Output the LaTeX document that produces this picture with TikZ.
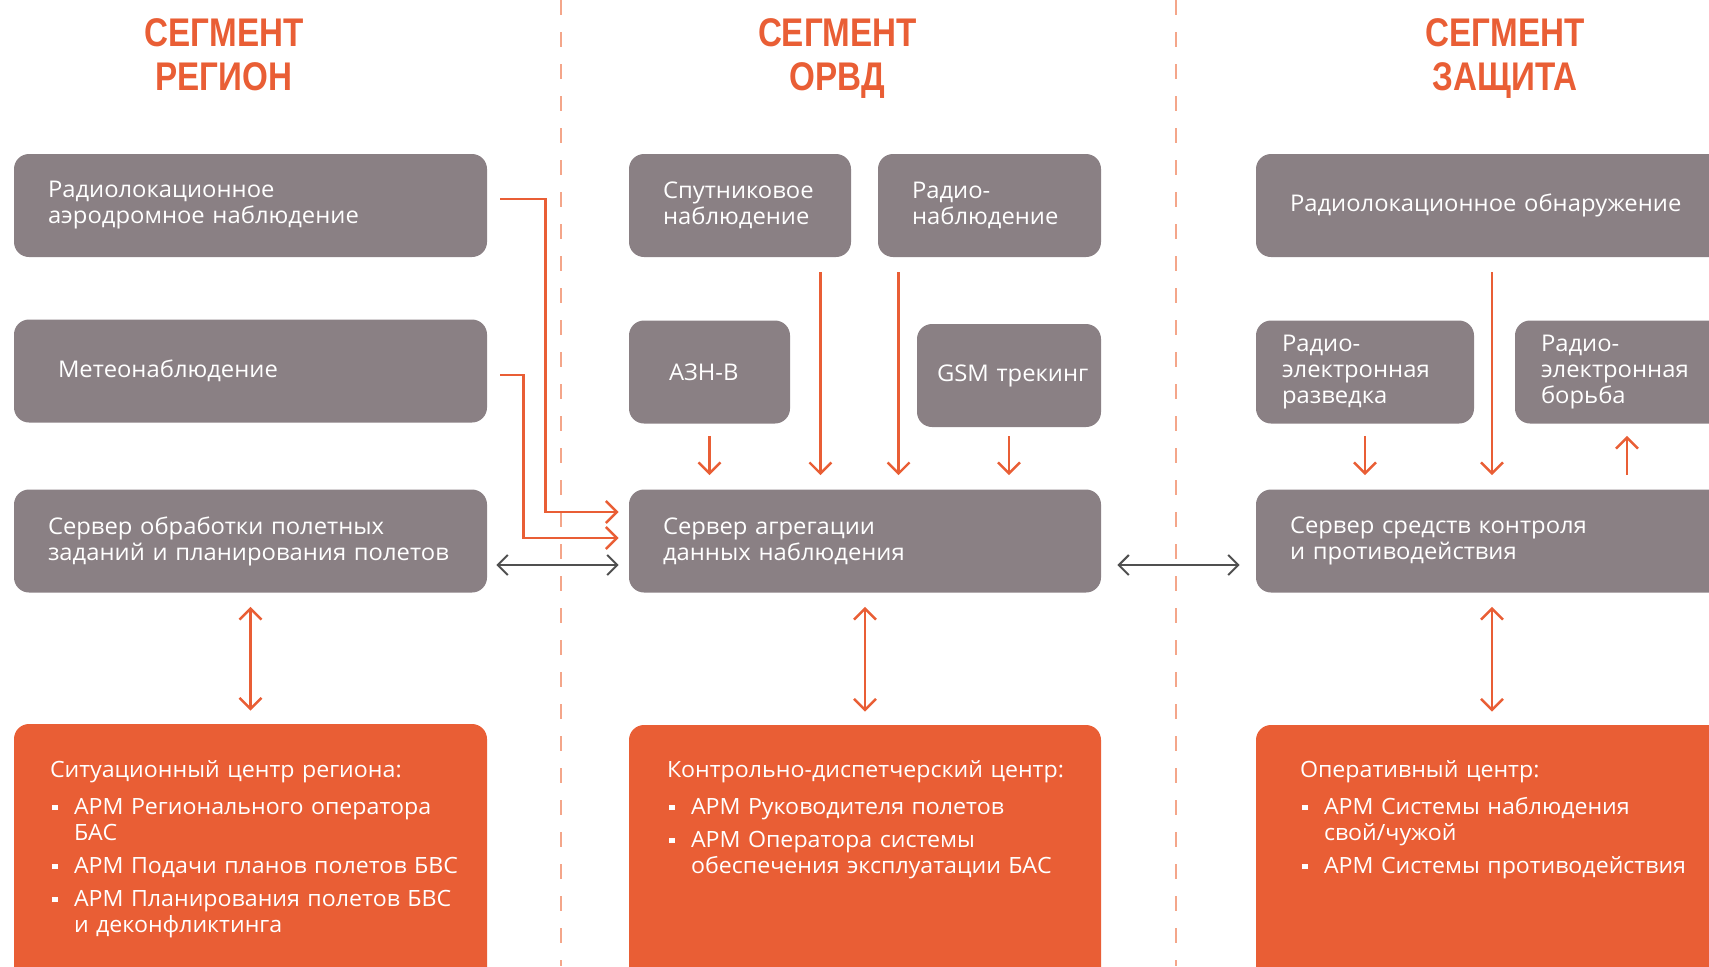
\documentclass[tikz,border=0pt]{standalone}
\usepackage{fontspec}
\setmainfont{Open Sans}[FakeStretch=1.035]
\newfontfamily\segfont{Liberation Sans}[FakeStretch=0.83]
\usetikzlibrary{arrows.meta, positioning, calc}

\definecolor{segorange}{RGB}{233,94,53}
\definecolor{boxgray}{RGB}{138,128,132}
\definecolor{dashorange}{RGB}{244,166,138}
\definecolor{linkgray}{RGB}{80,80,80}

% bullet line for the workplace lists
\newcommand{\armitem}[1]{\par\vspace{3.5pt}\hangindent=12pt\hangafter=1\noindent
	\makebox[12pt][l]{\hspace{1.2pt}\raisebox{2.2pt}{\rule{2.6pt}{2.6pt}}}#1\par}

\begin{document}
\begin{tikzpicture}[x=0.5pt, y=-0.5pt,
		otip/.tip={Straight Barb[length=5.5pt,width=11pt]},
		gtip/.tip={Straight Barb[length=5pt,width=10pt]},
		gbox/.style={fill=boxgray, rounded corners=7.5pt, text=white, align=left,
			minimum height=51.5pt, inner xsep=17pt, inner ysep=0pt,
			font=\fontsize{11.5}{13}\selectfont},
		obox/.style={fill=segorange, rounded corners=7.5pt, minimum width=236pt,
			minimum height=150pt, inner sep=0pt},
		otext/.style={text=white, anchor=base west, inner sep=0pt, text width=225pt,
			font=\fontsize{11.2}{13}\selectfont},
		segtitle/.style={text=segorange, align=center, anchor=base,
			font=\segfont\bfseries\fontsize{20}{22}\selectfont},
		feed/.style={draw=segorange, line width=1.2pt, -otip},
		feedboth/.style={draw=segorange, line width=1.2pt, otip-otip},
		link/.style={draw=linkgray, line width=1pt, gtip-gtip},
		divider/.style={draw=dashorange, line width=1pt, dash pattern=on 7.5pt off 8.5pt}]
	
	\useasboundingbox (0,0) rectangle (1709,966);
	\clip (0,0) rectangle (1709,966);
	
	% ---------- segment borders ----------
	\draw[divider] (561,0) -- (561,966);
	\draw[divider] (1176,0) -- (1176,966);
	
	% ---------- Segment Region ----------
	\node[segtitle] (regtitle) at (224,90) {СЕГМЕНТ\\РЕГИОН};
	\node[gbox, text width=202.5pt] (radar) at (250.5,205.5) {Радиолокационное\\аэродромное наблюдение};
	\node[gbox, text width=192.5pt, inner xsep=22pt] (meteo) at (250.5,371) {Метеонаблюдение};
	\node[gbox, text width=202.5pt] (plan) at (250.5,541) {Сервер обработки полетных\\заданий и планирования полетов};
	\node[obox, minimum width=236.5pt] (regc) at (250.5,874) {};
	\node[otext] (regc-t) at ([shift={(36,54)}]regc.north west) {Ситуационный центр региона:\par\vspace{2pt}
		\armitem{АРМ Регионального оператора\newline БАС}
		\armitem{АРМ Подачи планов полетов БВС}
		\armitem{АРМ Планирования полетов БВС\newline и деконфликтинга}};
	
	% ---------- Segment ORVD ----------
	\node[segtitle] (orvdtitle) at (837.5,90) {СЕГМЕНТ\\ОРВД};
	\node[gbox, text width=77pt] (sat) at (740,205.5) {Спутниковое\\наблюдение};
	\node[gbox, text width=77.5pt] (radio) at (989.5,205.5) {Радио-\\наблюдение};
	\node[gbox, text width=40.5pt, inner xsep=20pt] (ads) at (709.5,372) {АЗН-В};
	\node[gbox, text width=72pt, inner xsep=10pt] (gsm) at (1009,375.5) {\mbox{GSM трекинг}};
	\node[gbox, text width=202pt] (agg) at (865,541) {Сервер агрегации\\данных наблюдения};
	\node[obox] (kdc) at (865,875) {};
	\node[otext] (kdc-t) at ([shift={(38,53)}]kdc.north west) {Контрольно-диспетчерский центр:\par\vspace{2pt}
		\armitem{АРМ Руководителя полетов}
		\armitem{АРМ Оператора системы\newline обеспечения эксплуатации БАС}};
	
	% ---------- Segment Protection ----------
	\node[segtitle] (zashtitle) at (1505,90) {СЕГМЕНТ\\ЗАЩИТА};
	\node[gbox, text width=202pt] (det) at (1492,205.5) {Радиолокационное обнаружение};
	\node[gbox, text width=83pt, inner xsep=13pt] (elint) at (1365,372) {Радио-\\электронная\\разведка};
	\node[gbox, text width=83pt, inner xsep=13pt] (ew) at (1624,372) {Радио-\\электронная\\борьба};
	\node[gbox, text width=202pt] (cuas) at (1492,541) {Сервер средств контроля\\и противодействия};
	\node[obox] (opc) at (1492,875) {};
	\node[otext] (opc-t) at ([shift={(44,53)}]opc.north west) {Оперативный центр:\par\vspace{2pt}
		\armitem{АРМ Системы наблюдения\newline свой/чужой}
		\armitem{АРМ Системы противодействия}};
	
	% ---------- feeds into the aggregation server ----------
	\draw[feed] ([shift={(13,-6.5)}]radar.east) -- ++(45,0) |- ([shift={(-10,-29)}]agg.west);
	\draw[feed] ([shift={(13,4)}]meteo.east) -- ++(23,0) |- ([shift={(-10,-3)}]agg.west);
	\coordinate (satout) at ([shift={(-31,0)}]sat.south east);
	\coordinate (radioout) at ([shift={(21,0)}]radio.south west);
	\draw[feed, shorten <=7.5pt, shorten >=7pt] (satout) -- (satout |- agg.north);
	\draw[feed, shorten <=7.5pt, shorten >=7pt] (radioout) -- (radioout |- agg.north);
	\draw[feed, shorten <=6pt, shorten >=7pt] (ads.south) -- (ads.south |- agg.north);
	\draw[feed, shorten <=4.5pt, shorten >=7pt] (gsm.south) -- (gsm.south |- agg.north);
	
	% ---------- feeds around the protection server ----------
	\draw[feed, shorten <=6pt, shorten >=7pt] (elint.south) -- (elint.south |- cuas.north);
	\draw[feed, shorten <=7.5pt, shorten >=7pt] (det.south) -- (cuas.north);
	\draw[feed, shorten <=7pt, shorten >=6pt] ([shift={(3,0)}]ew.south |- cuas.north) -- ([shift={(3,0)}]ew.south);
	
	% ---------- server links and workplaces ----------
	\draw[link] ([shift={(9,24)}]plan.east) -- ([shift={(-10,24)}]agg.west);
	\draw[link] ([shift={(16,24)}]agg.east) -- ([shift={(-16,24)}]cuas.west);
	\draw[feedboth, shorten <=7pt, shorten >=6.5pt] (plan.south) -- (regc.north);
	\draw[feedboth, shorten <=7pt, shorten >=6.5pt] (agg.south) -- (kdc.north);
	\draw[feedboth, shorten <=7pt, shorten >=6.5pt] (cuas.south) -- (opc.north);
	
\end{tikzpicture}
\end{document}
